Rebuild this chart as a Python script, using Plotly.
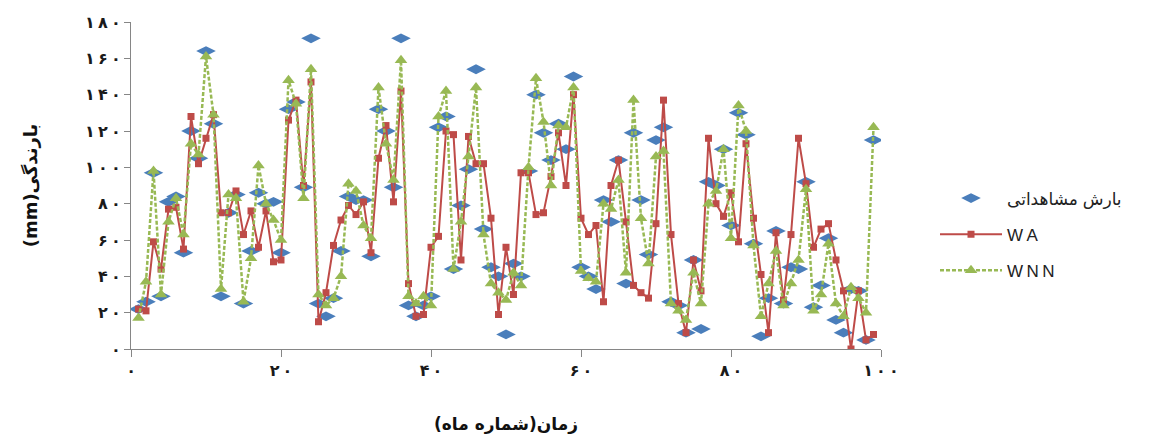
import plotly.graph_objects as go

# Month index (1..99)
months = list(range(1, 100))

# Observed rainfall (mm)
observed = [
    22, 26, 97, 29, 81, 84, 53, 120, 105, 164,
    124, 29, 75, 85, 25, 54, 86, 80, 81, 53,
    132, 136, 89, 171, 25, 18, 28, 54, 84, 82,
    82, 51, 132, 120, 89, 171, 24, 18, 24, 29,
    122, 128, 44, 79, 99, 154, 66, 45, 40, 8,
    47, 40, 98, 140, 119, 104, 124, 110, 150, 45,
    40, 33, 82, 70, 104, 36, 119, 82, 52, 115,
    122, 26, 24, 9, 49, 11, 92, 90, 110, 68,
    130, 118, 58, 7, 28, 65, 25, 45, 44, 92,
    23, 35, 61, 16, 9, 33, 32, 5, 115,
]

# WA model output (mm)
wa = [
    22, 21, 59, 44, 77, 78, 55, 128, 102, 116,
    129, 75, 75, 87, 63, 76, 56, 76, 48, 49,
    126, 137, 90, 147, 15, 31, 57, 71, 79, 74,
    81, 53, 105, 123, 81, 142, 36, 18, 19, 56,
    62, 120, 118, 49, 117, 102, 102, 72, 19, 56,
    30, 97, 97, 74, 75, 95, 119, 90, 140, 72,
    63, 68, 26, 90, 104, 70, 35, 31, 28, 69,
    137, 63, 25, 9, 49, 32, 116, 80, 73, 86,
    59, 113, 72, 41, 9, 64, 27, 63, 116, 91,
    56, 66, 69, 49, 32, 0, 32, 5, 8,
]

# WNN model output (mm)
wnn = [
    17, 37, 98, 30, 70, 83, 63, 113, 107, 161,
    129, 33, 85, 83, 26, 50, 101, 80, 71, 60,
    148, 135, 83, 154, 30, 24, 28, 40, 91, 87,
    68, 61, 144, 113, 93, 159, 29, 25, 29, 24,
    128, 142, 44, 70, 106, 144, 63, 36, 31, 27,
    42, 35, 100, 149, 125, 90, 123, 122, 144, 43,
    39, 37, 80, 77, 93, 42, 137, 72, 47, 106,
    109, 25, 21, 16, 42, 25, 80, 87, 110, 61,
    134, 120, 57, 18, 36, 54, 24, 36, 49, 88,
    21, 30, 58, 25, 18, 34, 28, 20, 122,
]

fa_digits = str.maketrans("0123456789", "۰۱۲۳۴۵۶۷۸۹")
x_ticks = [0, 20, 40, 60, 80, 100]
y_ticks = [0, 20, 40, 60, 80, 100, 120, 140, 160, 180]


def fa_label(v):
    # Persian digits, slightly spread apart
    return "\u2009".join(str(v).translate(fa_digits))


x_tick_text = [fa_label(v) for v in x_ticks]
y_tick_text = [fa_label(v) for v in y_ticks]

BLUE = "#4A7EBB"
RED = "#BE4B48"
GREEN = "#98B954"
AXIS = "#868686"
FA_FONT = "DejaVu Sans"

fig = go.Figure()

fig.add_trace(go.Scatter(
    x=months, y=observed, mode="markers", name="بارش مشاهداتی",
    legendgroup="obs",
    marker=dict(symbol="diamond-wide", size=14, color=BLUE, line=dict(width=0)),
))
fig.add_trace(go.Scatter(
    x=months, y=wa, mode="lines+markers", name="W\u2009A",
    legendgroup="wa",
    line=dict(color=RED, width=2),
    marker=dict(symbol="square", size=7, color=RED, line=dict(width=0)),
))
fig.add_trace(go.Scatter(
    x=months, y=wnn, mode="lines+markers", name="W\u2009N\u2009N",
    legendgroup="wnn",
    line=dict(color=GREEN, width=2.5, dash="4px,2px"),
    marker=dict(symbol="triangle-up", size=11, color=GREEN, line=dict(width=0)),
))

fig.update_layout(
    width=1152, height=434,
    margin=dict(l=131, r=271, t=22, b=85),
    paper_bgcolor="white", plot_bgcolor="white",
    font=dict(family=FA_FONT, size=14, color="#222222"),
    showlegend=True,
    legend=dict(
        x=1.072, xanchor="left", y=0.35, yanchor="middle",
        font=dict(family="Liberation Sans, " + FA_FONT, size=17, color="#222222"),
        itemwidth=62, tracegroupgap=11,
        bgcolor="rgba(0,0,0,0)",
    ),
)

fig.update_xaxes(
    range=[0, 100], tickmode="array", tickvals=x_ticks, ticktext=x_tick_text,
    automargin=False,
    showgrid=False, zeroline=False, showline=True, linecolor=AXIS, linewidth=1,
    ticks="outside", ticklen=7, tickcolor=AXIS,
    tickfont=dict(family=FA_FONT, size=16, color="#1a1a1a", weight="bold"),
    title=dict(text="\u202bزمان(شماره ماه)\u202c",
               font=dict(family=FA_FONT, size=17, color="#111111", weight="bold"),
               standoff=42),
)
fig.update_yaxes(
    range=[0, 180], tickmode="array", tickvals=y_ticks, ticktext=y_tick_text,
    automargin=False,
    showgrid=False, zeroline=False, showline=True, linecolor=AXIS, linewidth=1,
    ticks="outside", ticklen=6, tickcolor=AXIS,
    tickfont=dict(family=FA_FONT, size=16, color="#1a1a1a", weight="bold"),
    title=dict(text="\u202bبارندگی(mm)\u202c",
               font=dict(family=FA_FONT, size=18, color="#111111", weight="bold"),
               standoff=42),
)

fig.write_html("out.html")
